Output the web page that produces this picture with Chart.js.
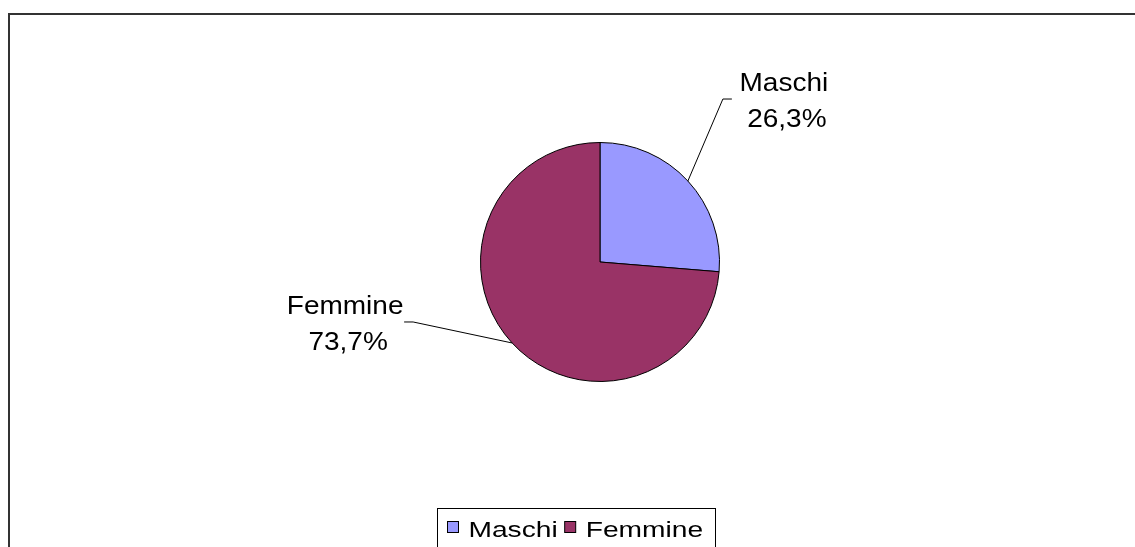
<!DOCTYPE html>
<html>
<head>
<meta charset="utf-8">
<script src="https://cdn.jsdelivr.net/npm/chart.js@4/dist/chart.umd.min.js"></script>
<style>
  html, body { margin: 0; padding: 0; background: #fff; overflow: hidden; }
  #wrap { position: relative; width: 1135px; height: 547px; }
  #frame { position: absolute; left: 8px; top: 13px; right: -4px; bottom: -4px;
           border-top: 2px solid #333; border-left: 2px solid #333; }
  canvas { position: absolute; left: 0; top: 0; }
</style>
</head>
<body>
<div id="wrap">
  <div id="frame"></div>
  <canvas id="pie" width="1135" height="547"></canvas>
</div>
<script>
// Gender split (percent)
const categories = ['Maschi', 'Femmine'];
const shares = [26.3, 73.7];
const sliceColors = ['#9999FF', '#993366'];

const FONT = '"Liberation Sans", Arial, sans-serif';

// where each callout sits relative to the slice edge (elbow offset, text side, text gap)
const callouts = [
    { dx: 35, dy: -82, side: 1, gap: 53 },
    { dx: -99, dy: -21, side: -1, gap: 58 }
];

function fmtPct(v) {
    return v.toFixed(1).replace('.', ',') + '%';
}

// the original's text is a bit wide, so stretch it horizontally
function wideText(ctx, text, x, y, sx, align) {
    const w = ctx.measureText(text).width * sx;
    let left = x;
    if (align === 'center') left = x - w / 2;
    ctx.save();
    ctx.translate(left, y);
    ctx.scale(sx, 1);
    ctx.textAlign = 'left';
    ctx.fillText(text, 0, 0);
    ctx.restore();
    return w;
}

// Data labels with leader lines
const calloutPlugin = {
    id: 'callouts',
    afterDatasetsDraw(chart) {
        const ctx = chart.ctx;
        const arcs = chart.getDatasetMeta(0).data;
        const vals = chart.data.datasets[0].data;
        ctx.save();
        arcs.forEach((arc, i) => {
            const mid = (arc.startAngle + arc.endAngle) / 2;
            const ex = arc.x + arc.outerRadius * Math.cos(mid);
            const ey = arc.y + arc.outerRadius * Math.sin(mid);
            const c = callouts[i];
            const bx = ex + c.dx, by = ey + c.dy;
            const tx = bx + c.side * 9;
            ctx.strokeStyle = '#000';
            ctx.lineWidth = 1;
            ctx.beginPath();
            ctx.moveTo(ex, ey);
            ctx.lineTo(bx, by);
            ctx.lineTo(tx, by);
            ctx.stroke();

            ctx.fillStyle = '#000';
            ctx.font = '25px ' + FONT;
            ctx.textBaseline = 'alphabetic';
            const cx = tx + c.side * c.gap;
            wideText(ctx, chart.data.labels[i], cx - 1, by - 8, 1.12, 'center');
            wideText(ctx, fmtPct(vals[i]), cx + 2, by + 28, 1.12, 'center');
        });
        ctx.restore();
    }
};

// Boxed legend under the pie
const legendBox = {
    id: 'legendBox',
    afterDraw(chart) {
        const ctx = chart.ctx;
        const colors = chart.data.datasets[0].backgroundColor;
        const left = 437.5, top = 508.5, width = 278;
        ctx.save();
        ctx.strokeStyle = '#000';
        ctx.lineWidth = 1;
        ctx.strokeRect(left, top, width, 60);
        ctx.font = '22px ' + FONT;
        ctx.textBaseline = 'alphabetic';
        let x = left + 10;
        chart.data.labels.forEach((lab, i) => {
            ctx.fillStyle = colors[i];
            ctx.fillRect(x, 521.5, 11, 11);
            ctx.strokeRect(x, 521.5, 11, 11);
            ctx.fillStyle = '#000';
            const w = wideText(ctx, lab, x + 21, 537, 1.28, 'left');
            x += 21 + w + 7;
        });
        ctx.restore();
    }
};

new Chart(document.getElementById('pie').getContext('2d'), {
    type: 'pie',
    data: {
        labels: categories,
        datasets: [{
            data: shares,
            backgroundColor: sliceColors,
            borderColor: '#000',
            borderWidth: 1
        }]
    },
    options: {
        responsive: false,
        animation: false,
        layout: { padding: { left: 480, right: 415, top: 142, bottom: 165 } },
        plugins: {
            legend: { display: false },
            tooltip: { enabled: false }
        }
    },
    plugins: [calloutPlugin, legendBox]
});
</script>
</body>
</html>
